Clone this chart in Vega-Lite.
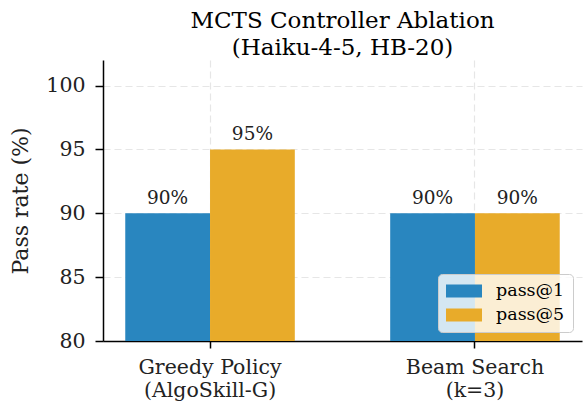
{
  "$schema": "https://vega.github.io/schema/vega-lite/v6.json",
  "width": 479,
  "height": 281,
  "autosize": {"type": "none"},
  "padding": {"left": 103, "top": 60, "right": 3, "bottom": 64},
  "background": "white",
  "title": {
    "text": ["MCTS Controller Ablation", "(Haiku-4-5, HB-20)"],
    "font": "DejaVu Serif",
    "fontSize": 23,
    "fontWeight": "normal",
    "color": "black",
    "lineHeight": 27,
    "offset": 0,
    "anchor": "middle"
  },
  "data": {
    "values": [
      {"method": "Greedy Policy|(AlgoSkill-G)", "metric": "pass@1", "rate": 90, "label": "90%"},
      {"method": "Greedy Policy|(AlgoSkill-G)", "metric": "pass@5", "rate": 95, "label": "95%"},
      {"method": "Beam Search|(k=3)", "metric": "pass@1", "rate": 90, "label": "90%"},
      {"method": "Beam Search|(k=3)", "metric": "pass@5", "rate": 90, "label": "90%"}
    ]
  },
  "encoding": {
    "x": {
      "field": "method",
      "type": "nominal",
      "sort": ["Greedy Policy|(AlgoSkill-G)", "Beam Search|(k=3)"],
      "scale": {"paddingInner": 0.36, "paddingOuter": 0.084},
      "axis": {
        "title": null,
        "labelAngle": 0,
        "labelExpr": "split(datum.label, '|')",
        "labelLineHeight": 23,
        "labelPadding": 9,
        "grid": true,
        "bandPosition": 0.5,
        "tickSize": 7
      }
    },
    "xOffset": {"field": "metric", "type": "nominal", "sort": ["pass@1", "pass@5"], "scale": {"paddingInner": 0, "paddingOuter": 0}},
    "y": {
      "field": "rate",
      "type": "quantitative",
      "scale": {"domain": [80, 102], "zero": false, "nice": false},
      "axis": {
        "title": "Pass rate (%)",
        "values": [80, 85, 90, 95, 100],
        "grid": true,
        "tickSize": 8,
        "labelPadding": 10,
        "titlePadding": 13
      }
    }
  },
  "layer": [
    {
      "mark": {"type": "bar", "opacity": 1},
      "encoding": {
        "y2": {"datum": 80},
        "color": {
          "field": "metric",
          "type": "nominal",
          "scale": {"domain": ["pass@1", "pass@5"], "range": ["#2986bf", "#e8ab2a"]},
          "legend": {
            "title": null,
            "orient": "bottom-right",
            "offset": 9,
            "fillColor": "rgba(255,255,255,0.8)",
            "strokeColor": "#cccccc",
            "cornerRadius": 4,
            "padding": 8,
            "symbolType": "M-1,-0.72L3,-0.72L3,0.72L-1,0.72Z",
            "symbolSize": 324,
            "symbolStrokeWidth": 0,
            "symbolOpacity": 1,
            "labelFont": "DejaVu Serif",
            "labelFontSize": 17.5,
            "labelColor": "black",
            "labelOffset": 32,
            "rowPadding": 6
          }
        }
      }
    },
    {
      "mark": {"type": "text", "baseline": "bottom", "dy": -5, "font": "DejaVu Serif", "fontSize": 18.5, "color": "#222222"},
      "encoding": {
        "text": {"field": "label"}
      }
    }
  ],
  "config": {
    "view": {"stroke": null},
    "axis": {
      "labelFont": "DejaVu Serif",
      "labelFontSize": 20.5,
      "labelColor": "#222222",
      "titleFont": "DejaVu Serif",
      "titleFontSize": 22,
      "titleFontWeight": "normal",
      "titleColor": "#222222",
      "domainColor": "black",
      "domainWidth": 1.5,
      "tickColor": "black",
      "tickWidth": 1.5,
      "gridColor": "#e6e6e6",
      "gridDash": [7, 4],
      "gridWidth": 1.2
    }
  }
}
